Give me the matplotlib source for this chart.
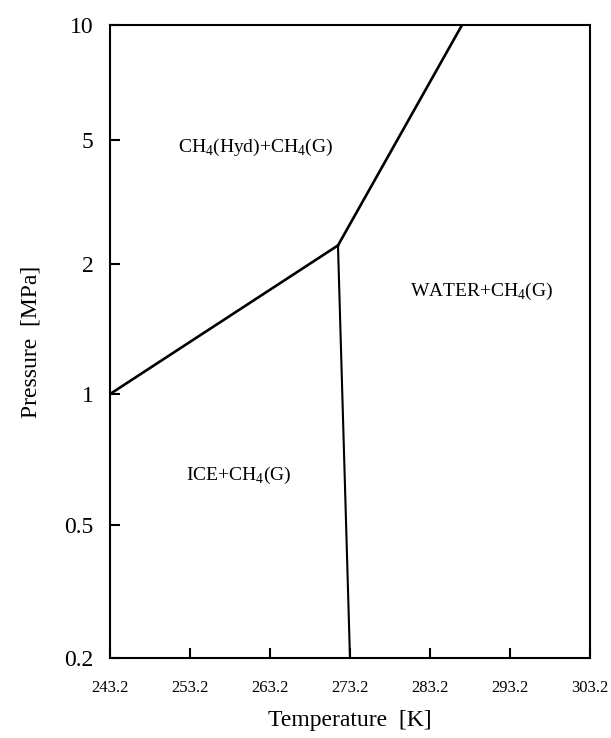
import numpy as np
import matplotlib.pyplot as plt

plt.rcParams['font.family'] = ['Liberation Serif', 'DejaVu Serif']
plt.rcParams['mathtext.fontset'] = 'custom'
plt.rcParams['mathtext.rm'] = 'Liberation Serif'

# phase boundaries (T in K, P in MPa)
triple_T = 271.7
triple_P = 2.3
hyd_ice_T = [243.2, triple_T]
hyd_ice_P = [1.0, triple_P]
ice_water_T = [triple_T, 273.2]
ice_water_P = [triple_P, 0.2]
hyd_water_T = [triple_T, 287.2]
hyd_water_P = [triple_P, 10.0]

x_ticks = [243.2, 253.2, 263.2, 273.2, 283.2, 293.2, 303.2]
y_ticks = [0.2, 0.5, 1, 2, 5, 10]
y_ticklabels = ['0.2', '0.5', '1', '2', '5', '10']

# the pressure axis is a stretched log axis:
# tick values sit at these fractions of the height
y_frac = [0.0, 0.210, 0.417, 0.622, 0.818, 1.0]
lg = np.log10(y_ticks)


def fwd(p):
    p = np.clip(np.asarray(p, dtype=float), 1e-6, None)
    return np.interp(np.log10(p), lg, y_frac, left=np.nan, right=np.nan)


def inv(f):
    return 10 ** np.interp(f, y_frac, lg)


fig = plt.figure(figsize=(6.11, 7.38), dpi=100)
ax = fig.add_axes([0.180, 0.1084, 0.7856, 0.8576])

ax.plot(hyd_ice_T, hyd_ice_P, color='black', lw=1.9)
ax.plot(ice_water_T, ice_water_P, color='black', lw=1.5)
ax.plot(hyd_water_T, hyd_water_P, color='black', lw=1.9)

ax.set_yscale('function', functions=(fwd, inv))
ax.set_xlim(243.2, 303.2)
ax.set_ylim(0.2, 10)

ax.set_xticks(x_ticks)
ax.set_xticklabels([f'{t:.1f}' for t in x_ticks], fontsize=12)
ax.set_yticks(y_ticks)
ax.set_yticklabels(y_ticklabels, fontsize=17)
ax.minorticks_off()
ax.tick_params(axis='both', direction='in', length=7, width=1.5)
ax.tick_params(axis='x', pad=16)
ax.tick_params(axis='y', pad=12)
for s in ax.spines.values():
    s.set_linewidth(1.5)

ax.text(261.4, 4.75, 'CH$_4$(Hyd)+CH$_4$(G)', fontsize=14, ha='center', va='center')
ax.text(289.6, 1.73, 'WATER+CH$_4$(G)', fontsize=14, ha='center', va='center')
ax.text(259.3, 0.65, 'ICE+CH$_4$(G)', fontsize=14, ha='center', va='center')

ax.set_xlabel('Temperature  [K]', fontsize=17, labelpad=10)
ax.set_ylabel('Pressure  [MPa]', fontsize=17, labelpad=16)

fig.savefig('out.png', dpi=100)
